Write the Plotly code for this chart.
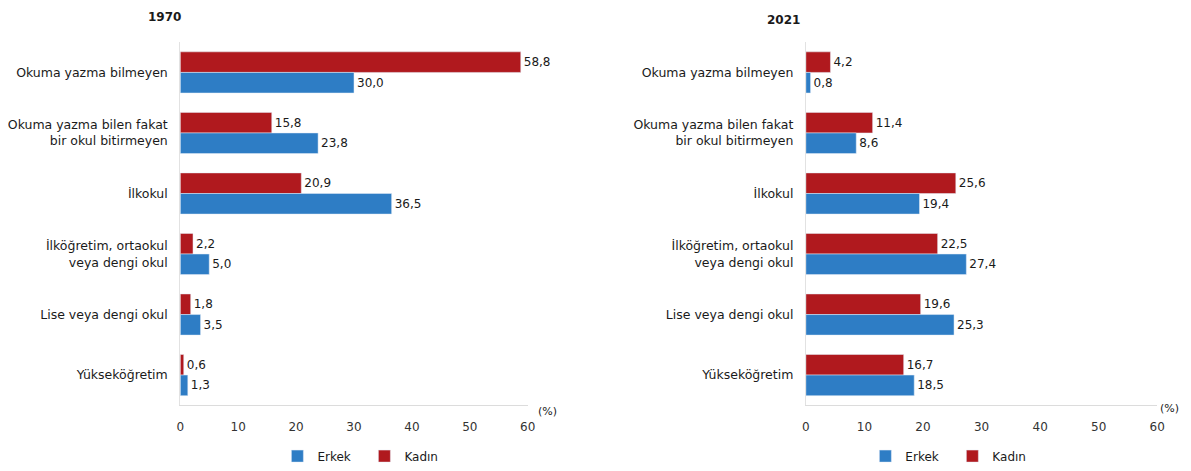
import plotly.graph_objects as go

categories = ["Okuma yazma bilmeyen", "Okuma yazma bilen fakat<br>bir okul bitirmeyen", "İlkokul",
              "İlköğretim, ortaokul<br>veya dengi okul", "Lise veya dengi okul", "Yükseköğretim"]
erkek_1970 = [30.0, 23.8, 36.5, 5.0, 3.5, 1.3]
kadin_1970 = [58.8, 15.8, 20.9, 2.2, 1.8, 0.6]
erkek_2021 = [0.8, 8.6, 19.4, 27.4, 25.3, 18.5]
kadin_2021 = [4.2, 11.4, 25.6, 22.5, 19.6, 16.7]
x_ticks = [0, 10, 20, 30, 40, 50, 60]

BLUE = "#2E7DC5"
RED = "#B0191E"
FONT = "DejaVu Sans, Liberation Sans, Arial, sans-serif"
TXT = "#1a1a1a"

# The page body adds an 8px offset; the figure is sized/placed to compensate.
W, H = 1183, 463

def fmt(v):
    return f"{v:.1f}".replace(".", ",")

fig = go.Figure()
for (xa, ya, kad, erk, leg) in [("x", "y", kadin_1970, erkek_1970, "legend"),
                                ("x2", "y2", kadin_2021, erkek_2021, "legend2")]:
    fig.add_trace(go.Bar(y=categories, x=kad, orientation="h", name="Kadın", marker_color=RED,
                         text=[fmt(v) for v in kad], textposition="outside", cliponaxis=False,
                         textfont=dict(size=12, color=TXT, family=FONT),
                         xaxis=xa, yaxis=ya, legend=leg, legendrank=2))
    fig.add_trace(go.Bar(y=categories, x=erk, orientation="h", name="Erkek", marker_color=BLUE,
                         text=[fmt(v) for v in erk], textposition="outside", cliponaxis=False,
                         textfont=dict(size=12, color=TXT, family=FONT),
                         xaxis=xa, yaxis=ya, legend=leg, legendrank=1))

xcommon = dict(range=[0, 60], tickvals=x_ticks, showgrid=False, zeroline=False, showline=True,
               linecolor="#dcdcdc", linewidth=1, ticks="", ticklabelstandoff=10,
               tickfont=dict(size=12, color="#333", family=FONT))
ycommon = dict(autorange="reversed", showgrid=False, showline=True, linecolor="#e2e2e2", linewidth=1,
               ticks="", ticklabelstandoff=9, tickfont=dict(size=12.5, color=TXT, family=FONT))

ydom = [1 - 407 / H, 1 - 35 / H]

fig.update_layout(
    width=W, height=H,
    margin=dict(l=0, r=0, t=0, b=0),
    paper_bgcolor="white", plot_bgcolor="white",
    barmode="group", bargap=0.32, bargroupgap=0,
    font=dict(family=FONT),
    showlegend=True,
    xaxis=dict(domain=[170 / W, 521 / W], anchor="y", **xcommon),
    yaxis=dict(domain=ydom, anchor="x", **ycommon),
    xaxis2=dict(domain=[802 / W, 1157 / W], anchor="y2", **xcommon),
    yaxis2=dict(domain=ydom, anchor="x2", **ycommon),
    legend=dict(orientation="h", x=356 / W, y=1 - 459 / H, xanchor="center", yanchor="middle",
                font=dict(size=12, color=TXT, family=FONT), itemwidth=30, entrywidth=42,
                traceorder="normal"),
    legend2=dict(orientation="h", x=950 / W, y=1 - 459 / H, xanchor="center", yanchor="middle",
                 font=dict(size=12, color=TXT, family=FONT), itemwidth=30, entrywidth=42,
                 traceorder="normal"),
    annotations=[
        dict(text="<b>1970</b>", x=154 / W, y=1 - 9 / H, xref="paper", yref="paper",
             xanchor="center", yanchor="middle", showarrow=False,
             font=dict(size=12, color=TXT, family=FONT)),
        dict(text="<b>2021</b>", x=779 / W, y=1 - 12 / H, xref="paper", yref="paper",
             xanchor="center", yanchor="middle", showarrow=False,
             font=dict(size=12, color=TXT, family=FONT)),
        dict(text="(%)", x=541 / W, y=1 - 413 / H, xref="paper", yref="paper",
             xanchor="center", yanchor="middle", showarrow=False,
             font=dict(size=11, color=TXT, family=FONT)),
        dict(text="(%)", x=1169 / W, y=1 - 410 / H, xref="paper", yref="paper",
             xanchor="center", yanchor="middle", showarrow=False,
             font=dict(size=11, color=TXT, family=FONT)),
    ],
)

fig.write_html("out.html")
